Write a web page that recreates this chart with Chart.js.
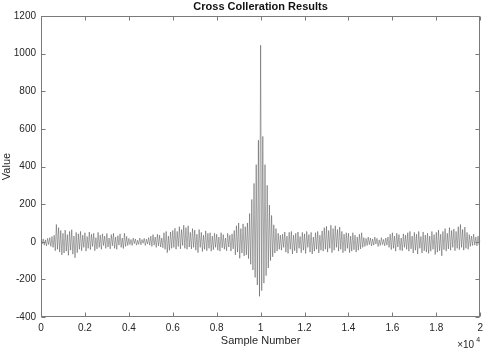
<!DOCTYPE html>
<html>
<head>
<meta charset="utf-8">
<script src="https://cdn.jsdelivr.net/npm/chart.js@4"></script>
<style>
  html, body { margin: 0; padding: 0; background: #fff; }
  #wrap { width: 488px; height: 348px; }
</style>
</head>
<body>
<div id="wrap"><canvas id="c" width="488" height="348"></canvas></div>
<script>
// ---- data ----
const chartTitle = 'Cross Colleration Results';
const xAxisLabel = 'Sample Number';
const yAxisLabel = 'Value';
const sampleStep = 50;            // samples between consecutive values
const xTickValues = [0, 2000, 4000, 6000, 8000, 10000, 12000, 14000, 16000, 18000, 20000];
const xTickLabels = ['0', '0.2', '0.4', '0.6', '0.8', '1', '1.2', '1.4', '1.6', '1.8', '2'];
const yTickValues = [-400, -200, 0, 200, 400, 600, 800, 1000, 1200];
const correlation = [
  0, -12, 15, -18, 10, -22, 18, -15, 22, -25, 28, -30, 35, -48, 92, -40, 75, -55, 60, -70,
  45, -60, 62, -50, 38, -72, 55, -45, 64, -66, 30, -85, 50, -58, 42, -40, 55, -48, 35, -30,
  48, -50, 28, -35, 52, -42, 40, -25, 45, -48, 22, -38, 50, -30, 35, -40, 42, -20, 30, -35,
  44, -28, 20, -38, 38, -22, 45, -35, 25, -40, 32, -18, 42, -30, 20, -36, 45, -25, 28, -20,
  18, -15, 12, -20, 20, -10, 15, -18, 8, -14, 20, -16, 12, -8, 18, -20, 14, -12, 22, -18,
  30, -25, 38, -18, 25, -30, 40, -22, 35, -28, 20, -32, 48, -40, 55, -58, 30, -45, 52, -35,
  60, -30, 72, -40, 55, -25, 80, -38, 65, -20, 88, -35, 75, -40, 85, -28, 50, -38, 70, -30,
  62, -45, 40, -58, 65, -30, 50, -52, 35, -40, 58, -48, 45, -35, 48, -50, 30, -42, 45, -30,
  40, -45, 25, -50, 48, -32, 38, -40, 20, -48, 45, -28, 35, -50, 42, -38, 60, -70, 85, -55,
  100, -88, 70, -60, 95, -75, 80, -70, 100, -90, 150, -120, 225, -150, 310, -190, 410, -230, 540, -290,
  1045, -260, 560, -220, 410, -180, 300, -140, 195, -100, 140, -80, 90, -60, 70, -50, 45, -40, 35, -45,
  40, -30, 52, -55, 30, -62, 50, -40, 55, -65, 35, -48, 45, -60, 52, -35, 28, -58, 50, -45,
  42, -62, 55, -30, 38, -55, 50, -65, 25, -50, 48, -40, 55, -60, 35, -45, 58, -50, 75, -40,
  82, -55, 60, -35, 88, -58, 70, -45, 85, -30, 65, -50, 78, -40, 55, -58, 40, -50, 48, -35,
  45, -58, 30, -50, 48, -42, 35, -55, 25, -45, 40, -38, 48, -30, 22, -25, 18, -20, 25, -15,
  20, -22, 15, -18, 25, -12, 18, -25, 10, -20, 22, -15, 12, -22, 20, -18, 25, -30, 40, -42,
  48, -35, 30, -50, 45, -28, 38, -45, 20, -48, 42, -30, 35, -40, 48, -50, 55, -38, 30, -60,
  50, -45, 40, -65, 55, -35, 28, -60, 52, -48, 35, -55, 45, -62, 30, -50, 55, -40, 38, -68,
  50, -55, 62, -48, 40, -75, 55, -42, 70, -50, 45, -38, 75, -45, 60, -30, 68, -48, 55, -35,
  80, -42, 92, -30, 65, -45, 78, -35, 50, -40, 38, -25, 30, -20, 40, -18, 25, -22, 30, -15,
  10
];

const FONT = "'Liberation Sans', Arial, Helvetica, sans-serif";
const AXIS_COLOR = '#7a7a7a';
const TEXT_COLOR = '#262626';

// inward MATLAB-style ticks, full box, title centred over the axes, x10^4 multiplier
const matlabBox = {
  id: 'matlabBox',
  afterDraw(chart) {
    const { ctx, chartArea: a, scales: { x, y } } = chart;
    ctx.save();
    ctx.strokeStyle = AXIS_COLOR;
    ctx.lineWidth = 1;
    const L = Math.round(a.left) + 0.5, R = Math.round(a.right) - 0.5;
    const T = Math.round(a.top) + 0.5, B = Math.round(a.bottom) - 0.5;
    ctx.strokeRect(L, T, R - L, B - T);
    ctx.beginPath();
    xTickValues.forEach(v => {
      const px = Math.round(x.getPixelForValue(v)) + 0.5;
      ctx.moveTo(px, B); ctx.lineTo(px, B - 4);
      ctx.moveTo(px, T); ctx.lineTo(px, T + 4);
    });
    yTickValues.forEach(v => {
      const py = Math.round(y.getPixelForValue(v)) + 0.5;
      ctx.moveTo(L, py); ctx.lineTo(L + 4, py);
      ctx.moveTo(R, py); ctx.lineTo(R - 4, py);
    });
    ctx.stroke();
    // title
    ctx.fillStyle = '#111';
    ctx.textAlign = 'center';
    ctx.textBaseline = 'middle';
    ctx.font = 'bold 11px ' + FONT;
    ctx.fillText(chartTitle, (a.left + a.right) / 2, 7);
    // exponent
    ctx.fillStyle = TEXT_COLOR;
    ctx.textBaseline = 'alphabetic';
    ctx.textAlign = 'left';
    ctx.font = '10px ' + FONT;
    ctx.fillText('\u00d710', a.right - 23, a.bottom + 31);
    ctx.font = '7px ' + FONT;
    ctx.fillText('4', a.right - 4, a.bottom + 25);
    ctx.restore();
  }
};

new Chart(document.getElementById('c'), {
  type: 'line',
  data: {
    datasets: [{
      data: correlation.map((v, i) => ({ x: i * sampleStep, y: v })),
      borderColor: 'rgba(40,40,40,0.65)',
      borderWidth: 0.6,
      pointRadius: 0,
      tension: 0,
      fill: false
    }]
  },
  options: {
    responsive: false,
    animation: false,
    layout: { padding: { left: 0, right: 6, top: 16, bottom: 0 } },
    plugins: {
      legend: { display: false },
      tooltip: { enabled: false },
      title: { display: false }
    },
    scales: {
      x: {
        type: 'linear',
        min: 0, max: 20000,
        afterBuildTicks(scale) { scale.ticks = xTickValues.map(v => ({ value: v })); },
        afterFit(scale) { scale.height = 31; },
        grid: { display: false, drawTicks: false },
        border: { display: false },
        ticks: {
          color: TEXT_COLOR,
          font: { family: FONT, size: 10 },
          padding: 5,
          maxRotation: 0,
          autoSkip: false,
          callback: (v) => xTickLabels[xTickValues.indexOf(v)]
        },
        title: {
          display: true, text: xAxisLabel, color: TEXT_COLOR,
          font: { family: FONT, size: 11 }, padding: { top: 0, bottom: 0 }
        }
      },
      y: {
        min: -400, max: 1200,
        afterBuildTicks(scale) { scale.ticks = yTickValues.map(v => ({ value: v })); },
        afterFit(scale) { scale.width = 41; },
        grid: { display: false, drawTicks: false },
        border: { display: false },
        ticks: {
          color: TEXT_COLOR,
          font: { family: FONT, size: 10 },
          padding: 5,
          autoSkip: false,
          callback: (v) => String(v)
        },
        title: {
          display: true, text: yAxisLabel, color: TEXT_COLOR,
          font: { family: FONT, size: 11 }, padding: { top: 0, bottom: 0 }
        }
      }
    }
  },
  plugins: [matlabBox]
});
</script>
</body>
</html>
